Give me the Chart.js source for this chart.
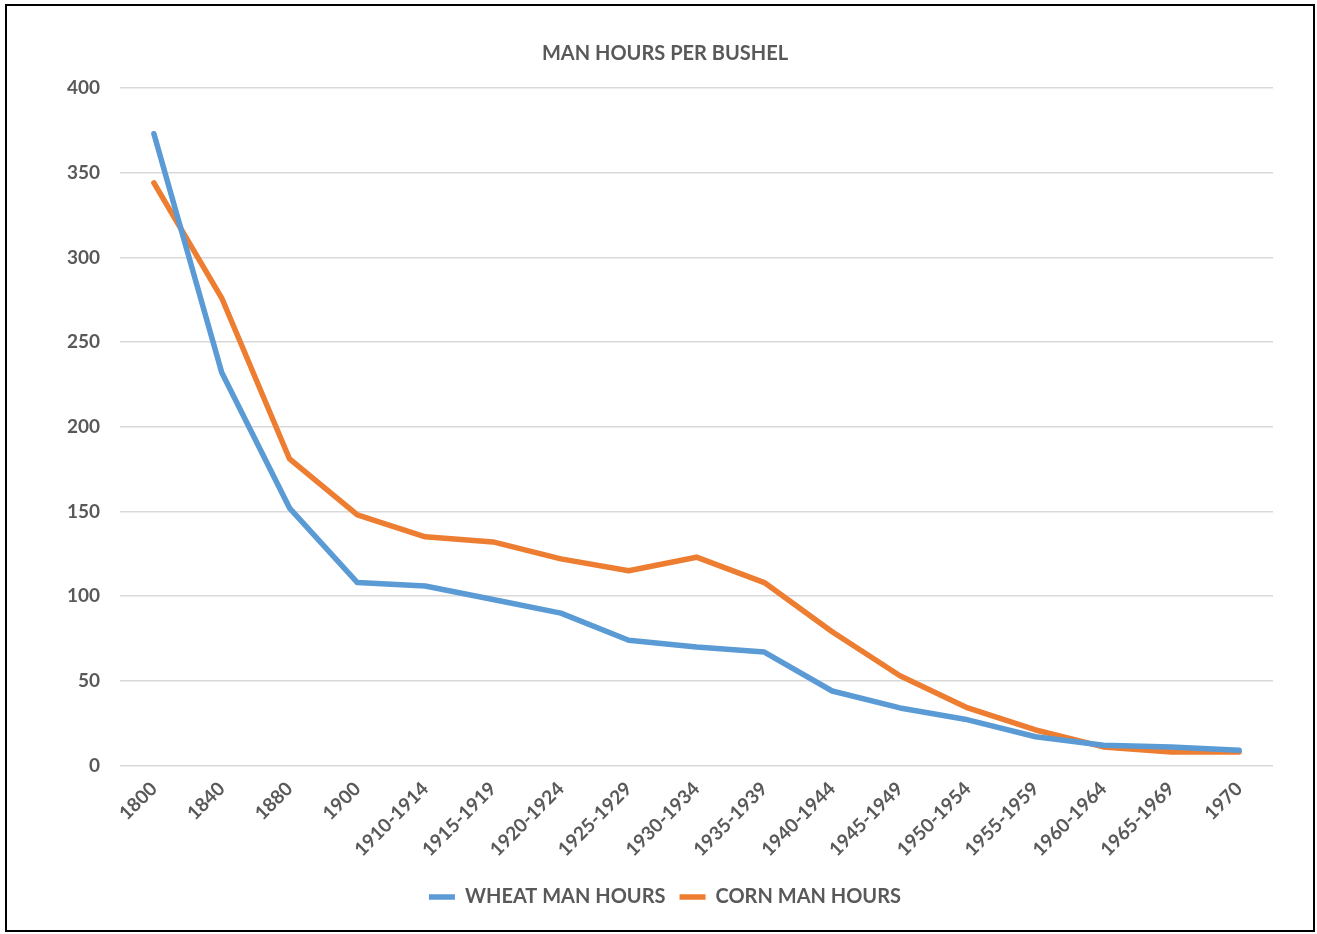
<!DOCTYPE html>
<html>
<head>
<meta charset="utf-8">
<script src="https://cdn.jsdelivr.net/npm/chart.js@4"></script>
<style>
  body { margin: 0; background: #fff; }
  #frame {
    position: absolute;
    left: 5px;
    top: 4px;
    width: 1306px;
    height: 924px;
    border: 2px solid #000;
    background: #fff;
  }
</style>
</head>
<body>
<div id="frame">
  <canvas id="manHoursChart" width="1306" height="924"></canvas>
</div>

<script>
  // periods on the x axis
  const periods = [
    "1800", "1840", "1880", "1900", "1910-1914", "1915-1919", "1920-1924",
    "1925-1929", "1930-1934", "1935-1939", "1940-1944", "1945-1949",
    "1950-1954", "1955-1959", "1960-1964", "1965-1969", "1970",
  ];

  // man hours per bushel
  const wheatHours = [373, 232, 152, 108, 106, 98, 90, 74, 70, 67, 44, 34, 27, 17, 12, 11, 9];
  const cornHours = [344, 276, 181, 148, 135, 132, 122, 115, 123, 108, 79, 53, 34, 21, 11, 8, 8];

  const yTicks = [0, 50, 100, 150, 200, 250, 300, 350, 400];

  const textColor = "#595959";
  const gridColor = "#d9d9d9";
  const fontFamily = "Lato, 'Open Sans', sans-serif";

  const ctx = document.getElementById("manHoursChart").getContext("2d");

  new Chart(ctx, {
    type: "line",
    data: {
      labels: periods,
      datasets: [
        {
          label: "WHEAT MAN HOURS",
          data: wheatHours,
          borderColor: "#5b9bd5",
          backgroundColor: "#5b9bd5",
          borderWidth: 5.5,
          pointRadius: 0,
          borderCapStyle: "round",
          borderJoinStyle: "round",
          tension: 0,
        },
        {
          label: "CORN MAN HOURS",
          data: cornHours,
          borderColor: "#ed7d31",
          backgroundColor: "#ed7d31",
          borderWidth: 5.5,
          pointRadius: 0,
          borderCapStyle: "round",
          borderJoinStyle: "round",
          tension: 0,
        },
      ],
    },
    options: {
      responsive: false,
      animation: false,
      layout: {
        padding: { left: 50, right: 40, top: 0, bottom: 13 },
      },
      plugins: {
        title: {
          display: true,
          text: "MAN HOURS PER BUSHEL",
          color: textColor,
          font: { family: fontFamily, size: 20, weight: "bold" },
          padding: { top: 36, bottom: 22 },
        },
        legend: {
          position: "bottom",
          labels: {
            color: textColor,
            font: { family: fontFamily, size: 20, weight: "bold" },
            usePointStyle: true,
            pointStyle: "line",
            pointStyleWidth: 26,
            padding: 14,
          },
        },
        tooltip: { enabled: false },
      },
      scales: {
        x: {
          offset: true,
          grid: { display: false, drawTicks: false },
          border: { display: false },
          ticks: {
            color: textColor,
            font: { family: fontFamily, size: 19, weight: "bold" },
            maxRotation: 45,
            minRotation: 45,
            autoSkip: false,
            padding: 12,
          },
        },
        y: {
          min: 0,
          max: 400,
          afterBuildTicks: (scale) => {
            scale.ticks = yTicks.map((v) => ({ value: v }));
          },
          afterFit: (scale) => {
            scale.width = 63;
          },
          grid: { color: gridColor, lineWidth: 1.5, drawTicks: false },
          border: { display: false },
          ticks: {
            color: textColor,
            font: { family: fontFamily, size: 19, weight: "bold" },
            padding: 20,
          },
        },
      },
    },
  });
</script>
</body>
</html>
